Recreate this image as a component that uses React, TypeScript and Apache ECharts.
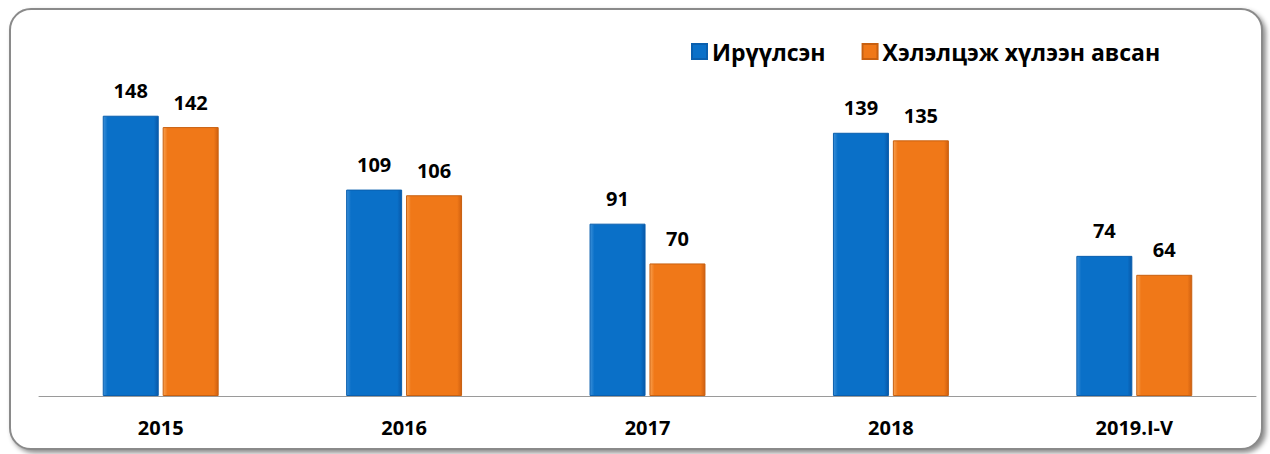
import React, { useEffect, useRef } from "react";
import * as echarts from "echarts";

const categories = ["2015", "2016", "2017", "2018", "2019.I-V"];
const sentValues = [148, 109, 91, 139, 74];
const resolvedValues = [142, 106, 70, 135, 64];
const seriesNames = ["Ирүүлсэн", "Хэлэлцэж хүлээн авсан"];

export default function App() {
  const ref = useRef<HTMLDivElement>(null);
  useEffect(() => {
    const chart = echarts.init(ref.current!, undefined, { renderer: "svg" });
    const font = "'Open Sans', 'Liberation Sans', sans-serif";
    const bar = (c1: string, c2: string, c3: string, border: string) => ({
      color: new echarts.graphic.LinearGradient(0, 0, 1, 0, [
        { offset: 0, color: c1 },
        { offset: 0.08, color: c2 },
        { offset: 0.92, color: c2 },
        { offset: 1, color: c3 },
      ]),
      borderColor: border,
      borderWidth: 1,
    });
    const labelStyle = {
      show: true,
      position: "top",
      distance: 15,
      fontFamily: font,
      fontWeight: "bold",
      fontSize: 20,
      color: "#000",
    };
    chart.setOption({
      animation: false,
      legend: {
        top: 35,
        left: 686,
        itemWidth: 15,
        itemHeight: 15,
        itemGap: 36,
        icon: "rect",
        textStyle: { fontFamily: font, fontWeight: "bold", fontSize: 23, color: "#000" },
        data: [seriesNames[0], seriesNames[1]],
      },
      grid: { left: 39, right: 14, top: 93, bottom: 58, containLabel: false },
      xAxis: {
        type: "category",
        data: categories,
        axisLine: { lineStyle: { color: "#9a9a9a", width: 1 } },
        axisTick: { show: false },
        axisLabel: {
          fontFamily: font,
          fontWeight: "bold",
          fontSize: 20,
          color: "#000",
          margin: 21,
        },
      },
      yAxis: { type: "value", min: 0, max: 160, show: false, splitLine: { show: false } },
      series: [
        {
          name: seriesNames[0],
          type: "bar",
          data: sentValues,
          barWidth: 56,
          barGap: "7%",
          itemStyle: bar("#3a8fd8", "#0a70c8", "#0858a8", "#0a5fae"),
          label: labelStyle,
        },
        {
          name: seriesNames[1],
          type: "bar",
          data: resolvedValues,
          barWidth: 56,
          itemStyle: bar("#f8a050", "#f07818", "#d06010", "#c86010"),
          label: labelStyle,
        },
      ],
    });
    return () => chart.dispose();
  }, []);
  return (
    <div style={{ position: "fixed", left: 0, top: 0, width: 1270, height: 454, background: "#fff" }}>
      <div
        style={{
          position: "absolute",
          left: 9,
          top: 8,
          width: 1250,
          height: 438,
          border: "2px solid #8a8a8a",
          borderRadius: 22,
          boxShadow: "3px 3px 5px rgba(0,0,0,0.45)",
          background: "#fff",
        }}
      />
      <div ref={ref} style={{ position: "absolute", left: 0, top: 0, width: 1270, height: 454 }} />
    </div>
  );
}
